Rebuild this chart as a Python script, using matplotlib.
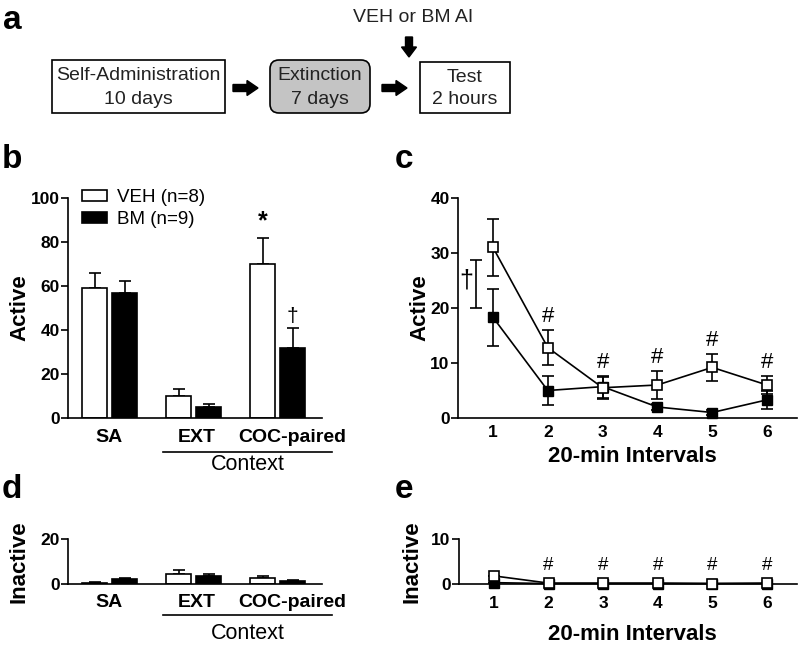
import matplotlib
matplotlib.use('Agg')
import matplotlib.pyplot as plt
from matplotlib.patches import Rectangle, FancyBboxPatch, FancyArrow
import matplotlib.transforms as mtrans
import numpy as np

plt.rcParams['font.family'] = ['Liberation Sans', 'DejaVu Sans']

# ---------------- data ----------------
contexts = ['SA', 'EXT', 'COC-paired']
group_labels = ['VEH (n=8)', 'BM (n=9)']

active_veh = [59, 10, 70]
active_veh_err = [7, 3, 12]
active_bm = [57, 5, 32]
active_bm_err = [5.5, 1.5, 9]

inactive_veh = [0.5, 4.3, 2.8]
inactive_veh_err = [0.2, 2.0, 0.6]
inactive_bm = [2.3, 3.7, 1.3]
inactive_bm_err = [0.5, 0.8, 0.3]

intervals = [1, 2, 3, 4, 5, 6]
c_veh = [31, 12.8, 5.5, 6, 9.2, 6]
c_veh_err = [5.2, 3.2, 2.0, 2.5, 2.4, 1.6]
c_bm = [18.3, 5, 5.7, 2, 1, 3.3]
c_bm_err = [5.2, 2.6, 2.0, 0.5, 0.4, 1.6]

e_veh = [1.8, 0.2, 0.2, 0.2, 0.1, 0.2]
e_bm = [0.3, 0.1, 0.1, 0.1, 0.1, 0.1]

b_yticks = [0, 20, 40, 60, 80, 100]
c_yticks = [0, 10, 20, 30, 40]
d_yticks = [0, 20]
e_yticks = [0, 10]

# ---------------- figure ----------------
fig = plt.figure(figsize=(8, 6.5), dpi=100)
W, H = 800, 650

def ax_px(l, r, top, bot):
    return fig.add_axes([l / W, (H - bot) / H, (r - l) / W, (bot - top) / H])

LW = 1.2
TICKFS = 12.5
LABFS = 16

# ---------- panel a: flowchart ----------
fa = fig.add_axes([0, 0, 1, 1], zorder=0)
fa.set_xlim(0, W)
fa.set_ylim(H, 0)
fa.axis('off')
txtc = '#222222'
fa.add_patch(Rectangle((52, 60), 173, 53, fill=False, ec='black', lw=LW))
fa.text(138, 76, 'Self-Administration', ha='center', va='center', fontsize=14, color=txtc)
fa.text(138, 100, '10 days', ha='center', va='center', fontsize=14, color=txtc)
fa.add_patch(FancyBboxPatch((270, 60), 100, 53, boxstyle='round,pad=0,rounding_size=9',
                            fc='#c4c4c4', ec='black', lw=LW))
fa.text(320, 76, 'Extinction', ha='center', va='center', fontsize=14, color=txtc)
fa.text(320, 100, '7 days', ha='center', va='center', fontsize=14, color=txtc)
fa.add_patch(Rectangle((420, 62), 90, 51, fill=False, ec='black', lw=LW))
fa.text(465, 77, 'Test', ha='center', va='center', fontsize=14, color=txtc)
fa.text(465, 100, '2 hours', ha='center', va='center', fontsize=14, color=txtc)
fa.add_patch(FancyArrow(233, 88, 25, 0, width=7, head_width=15, head_length=11,
                        length_includes_head=True, color='black'))
fa.add_patch(FancyArrow(382, 88, 25, 0, width=7, head_width=15, head_length=11,
                        length_includes_head=True, color='black'))
fa.add_patch(FancyArrow(409, 37, 0, 20, width=7, head_width=15, head_length=10,
                        length_includes_head=True, color='black'))
fa.text(413, 18, 'VEH or BM AI', ha='center', va='center', fontsize=14, color=txtc)

# panel letters
for s, x, y in [('a', 3, 29), ('b', 2, 168), ('c', 395, 168), ('d', 2, 498), ('e', 395, 498)]:
    fig.text(x / W, 1 - y / H, s, fontsize=24, fontweight='bold', va='baseline', ha='left')

def style(ax):
    for sp in ['top', 'right']:
        ax.spines[sp].set_visible(False)
    for sp in ['left', 'bottom']:
        ax.spines[sp].set_linewidth(LW)
    ax.tick_params(axis='y', length=5, width=LW, labelsize=TICKFS, pad=1)
    for lab in ax.get_yticklabels():
        lab.set_fontweight('bold')

# ---------- bar panels ----------
xc = np.arange(len(contexts))
off = 15 / 84
bw = 25 / 84
xlim_bar = ((68 - 109.5) / 84, (322 - 109.5) / 84)
label_shift = [0.0, 0.04, 0.17]

def bar_panel(ax, veh, veh_err, bm, bm_err, yticks, ylab, cat_y, line_y, ctx_y, ylab_x):
    b1 = ax.bar(xc - off, veh, bw, color='white', edgecolor='black', lw=LW, zorder=2,
                label=group_labels[0])
    b2 = ax.bar(xc + off, bm, bw, color='black', edgecolor='black', lw=LW, zorder=2,
                label=group_labels[1])
    ax.errorbar(xc - off, veh, yerr=[np.zeros(len(veh)), veh_err], fmt='none', ecolor='black',
                elinewidth=LW, capsize=4, capthick=LW, zorder=1)
    ax.errorbar(xc + off, bm, yerr=[np.zeros(len(bm)), bm_err], fmt='none', ecolor='black',
                elinewidth=LW, capsize=4, capthick=LW, zorder=1)
    ax.set_xlim(*xlim_bar)
    ax.set_ylim(yticks[0], yticks[-1])
    ax.set_yticks(yticks)
    ax.set_xticks([])
    style(ax)
    tr = mtrans.blended_transform_factory(ax.transData, ax.transAxes)
    for i, c in enumerate(contexts):
        ax.text(xc[i] + label_shift[i], cat_y, c, transform=tr, ha='center', va='center',
                fontsize=14, fontweight='bold', clip_on=False)
    ax.plot([(163 - 109.5) / 84, (332 - 109.5) / 84], [line_y, line_y], transform=tr,
            color='black', lw=LW, clip_on=False)
    ax.text((248 - 109.5) / 84, ctx_y, 'Context', transform=tr, ha='center', va='center',
            fontsize=15.5, clip_on=False)
    ax.text(ylab_x, 0.5, ylab, transform=ax.transAxes, rotation=90, ha='center', va='center',
            fontsize=LABFS, fontweight='bold')
    return b1, b2

axb = ax_px(68, 322, 198, 418)
b1, b2 = bar_panel(axb, active_veh, active_veh_err, active_bm, active_bm_err, b_yticks, 'Active',
                   -0.0909, -0.1545, -0.2136, -0.191)
axb.legend(handles=[b1, b2], loc='upper left', bbox_to_anchor=(0.057, 1.04), frameon=False,
           fontsize=13.5, handlelength=1.3, handleheight=0.5, handletextpad=0.55,
           labelspacing=0.25, borderaxespad=0, borderpad=0)
axb.text(xc[2] - off, active_veh[2] + active_veh_err[2] + 2, '*', ha='center', va='bottom',
         fontsize=18, fontweight='bold')
axb.text(xc[2] + off, active_bm[2] + active_bm_err[2] + 1, '\u2020', ha='center', va='bottom',
         fontsize=15)

axd = ax_px(68, 322, 539, 584)
bar_panel(axd, inactive_veh, inactive_veh_err, inactive_bm, inactive_bm_err, d_yticks, 'Inactive',
          -0.422, -0.689, -1.089, -0.191)

# ---------- line panels ----------
xlim_line = (1 + (458 - 493) / 54.8, 6 + (797 - 767) / 54.8)

def line_panel(ax, veh, veh_err, bm, bm_err, yticks, ylab, ylab_x, xlab_y, tickpad):
    ax.errorbar(intervals, bm, yerr=bm_err, fmt='-s', color='black', mfc='black', mec='black',
                ms=7.5, lw=LW, elinewidth=LW, capsize=4.5, capthick=LW, zorder=3, clip_on=False)
    ax.errorbar(intervals, veh, yerr=veh_err, fmt='-s', color='black', mfc='white', mec='black',
                mew=LW, ms=7.5, lw=LW, elinewidth=LW, capsize=4.5, capthick=LW, zorder=4,
                clip_on=False)
    ax.set_xlim(*xlim_line)
    ax.set_ylim(yticks[0], yticks[-1])
    ax.set_yticks(yticks)
    ax.set_xticks(intervals)
    style(ax)
    ax.tick_params(axis='x', length=0, labelsize=TICKFS, pad=tickpad)
    for lab in ax.get_xticklabels():
        lab.set_fontweight('bold')
    ax.text(ylab_x, 0.5, ylab, transform=ax.transAxes, rotation=90, ha='center', va='center',
            fontsize=LABFS, fontweight='bold')
    ax.text(0.513, xlab_y, '20-min Intervals', transform=ax.transAxes, ha='center', va='center',
            fontsize=LABFS, fontweight='bold')

axc = ax_px(458, 797, 198, 418)
line_panel(axc, c_veh, c_veh_err, c_bm, c_bm_err, c_yticks, 'Active', -0.1136, -0.177, 5)
for i in range(1, 6):
    axc.text(intervals[i], c_veh[i] + c_veh_err[i] + 0.6, '#', ha='center', va='bottom',
             fontsize=16)
# dagger bracket for interval 1
bx = 1 + (476 - 493) / 54.8
axc.errorbar([bx], [(20 + 28.7) / 2], yerr=[(28.7 - 20) / 2], fmt='none', ecolor='black',
             elinewidth=LW, capsize=4.5, capthick=LW)
axc.text(1 + (466 - 493) / 54.8, 25, '\u2020', ha='center', va='center', fontsize=18)

axe = ax_px(459, 797, 539, 584)
line_panel(axe, e_veh, [0] * 6, e_bm, [0] * 6, e_yticks, 'Inactive', -0.1376, -1.133, 9)
for i in range(1, 6):
    axe.text(intervals[i], 4.2, '#', ha='center', va='center', fontsize=13.5)

fig.savefig('out.png', dpi=100)
